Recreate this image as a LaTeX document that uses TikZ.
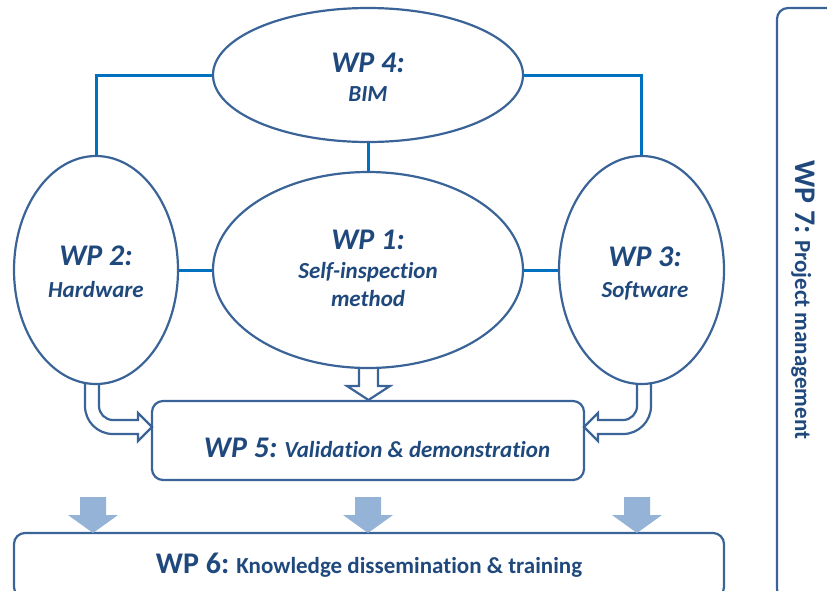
\documentclass[tikz,border=0pt]{standalone}
\usepackage{fontspec}
\setmainfont{Carlito}[Ligatures={NoCommon}]
\usetikzlibrary{shapes.geometric,backgrounds}
\definecolor{wpline}{HTML}{3A6497}
\definecolor{wptext}{HTML}{1F497D}
\definecolor{wplink}{HTML}{0070C0}
\definecolor{wpfill}{HTML}{95B3D7}
\newcommand\wpbigi{\fontsize{30}{36}\selectfont\bfseries\itshape}
\newcommand\wpsmalli{\fontsize{23}{28}\selectfont\bfseries\itshape}
\newcommand\wpbigu{\fontsize{30}{36}\selectfont\bfseries}
\newcommand\wpsmallu{\fontsize{23}{28}\selectfont\bfseries}
\begin{document}
\begin{tikzpicture}[x=1pt,y=-1pt,
  wpell/.style={ellipse, draw=wpline, line width=2.2pt, fill=white, inner sep=0pt},
  wpbox/.style={rectangle, draw=wpline, line width=2.2pt, rounded corners=11pt, inner sep=0pt},
  wplabel/.style={anchor=base, text=wptext, inner sep=0pt},
  link/.style={draw=wplink, line width=3pt},
  hollow/.style={draw=wpline, line width=2.2pt, fill=white, line join=miter},
  solidarrow/.style={fill=wpfill, draw=none}]
\useasboundingbox (0,0) rectangle (827,590);

% ellipses
\node[wpell, minimum width=310pt, minimum height=134pt] (wp4) at (368,75) {};
\node[wpell, minimum width=310pt, minimum height=196pt] (wp1) at (368,270) {};
\node[wpell, minimum width=164pt, minimum height=228pt] (wp2) at (96,270) {};
\node[wpell, minimum width=165pt, minimum height=228pt] (wp3) at (641.5,270) {};

% WP5 box
\node[wpbox, minimum width=432pt, minimum height=79pt] (wp5) at (368,440.5) {};

% WP6 and WP7 boxes, cut by the picture edge
\begin{scope}
\clip (0,0) rectangle (827,590);
\node[wpbox, minimum width=710pt, minimum height=65pt] (wp6) at (369,565.5) {};
\node[wpbox, minimum width=73pt, minimum height=592pt] (wp7) at (813.5,304) {};
\end{scope}

% connectors
\draw[link] (wp4.west) -| (wp2.north);
\draw[link] (wp4.east) -| (wp3.north);
\draw[link] (wp4.south) -- (wp1.north);
\draw[link] (wp2.east) -- (wp1.west);
\draw[link] (wp3.west) -- (wp1.east);

% hollow arrows into WP5 (behind the ellipses)
\begin{pgfonlayer}{background}
\draw[hollow] (99,372) -- (99,406) .. controls (99,413.7) and (105.3,420) .. (113,420)
  -- (138,420) -- (138,413) -- (152,427) -- (138,441) -- (138,434) -- (113,434)
  .. controls (97.5,434) and (85,421.5) .. (85,406) -- (85,372);
\draw[hollow] (637,372) -- (637,406) .. controls (637,413.7) and (630.7,420) .. (623,420)
  -- (598,420) -- (598,413) -- (584,427) -- (598,441) -- (598,434) -- (623,434)
  .. controls (638.5,434) and (651,421.5) .. (651,406) -- (651,372);
\draw[hollow] (359,360) -- (359,386) -- (347,386) -- (368.5,400) -- (390,386) -- (378,386) -- (378,360);
\end{pgfonlayer}

% solid arrows into WP6
\foreach \x in {93,368,637}
  \fill[solidarrow] (\x-13,497) -- (\x+13,497) -- (\x+13,515) -- (\x+25,515) -- (\x,533)
    -- (\x-25,515) -- (\x-13,515) -- cycle;

% labels
\node[wplabel] (t4a) at (368,72) {\wpbigi WP 4:};
\node[wplabel] (t4b) at (368,101) {\wpsmalli BIM};
\node[wplabel] (t1a) at (368,249) {\wpbigi WP 1:};
\node[wplabel] (t1b) at (368,278) {\wpsmalli Self-inspection};
\node[wplabel] (t1c) at (368,306) {\wpsmalli method};
\node[wplabel] (t2a) at (96,265) {\wpbigi WP 2:};
\node[wplabel] (t2b) at (96,297) {\wpsmalli Hardware};
\node[wplabel] (t3a) at (645,266) {\wpbigi WP 3:};
\node[wplabel] (t3b) at (645,297) {\wpsmalli Software};
\node[wplabel] (t5) at (377,457) {{\wpbigi WP 5:}\hspace{7pt}{\wpsmalli Validation \& demonstration}};
\node[wplabel] (t6) at (369,573) {{\wpbigu WP 6:}\hspace{7pt}{\wpsmallu Knowledge dissemination \& training}};
\node[wplabel, rotate=-90] (t7) at (795,300) {{\wpbigu WP 7:}\hspace{6pt}{\wpsmallu Project management}};
\end{tikzpicture}
\end{document}
